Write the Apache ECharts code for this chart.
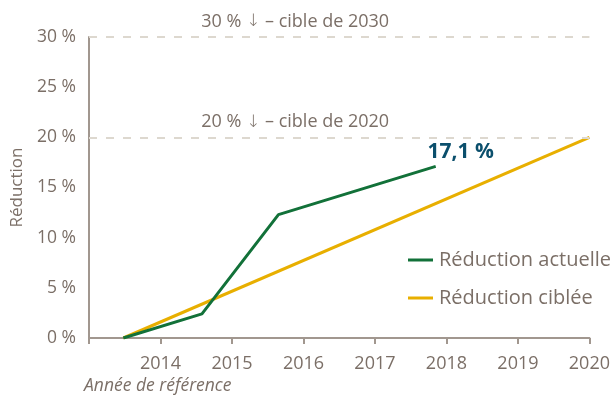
<!DOCTYPE html>
<html>
<head>
<meta charset="utf-8">
<script src="https://cdn.jsdelivr.net/npm/echarts@6/dist/echarts.min.js"></script>
<style>
  html, body { margin: 0; padding: 0; background: #fff; }
  #chart { width: 613px; height: 400px; }
</style>
</head>
<body>
<div id="chart"></div>
<script>
// données
var actualYears = [2013.48, 2014.58, 2015.65, 2017.85];
var actualValues = [0, 2.4, 12.3, 17.1];
var targetYears = [2013.48, 2020];
var targetValues = [0, 20];
var targetLines = [20, 30];
var targetLabels = ['20 % {a|\u2193} \u2013 cible de 2020', '30 % {a|\u2193} \u2013 cible de 2030'];
var seriesNames = ['Réduction actuelle', 'Réduction ciblée'];

var textColor = '#7b6f67';
var axisColor = '#a1978f';
var font = 'Open Sans';

function pairs(xs, ys) {
	var out = [];
	for (var i = 0; i < xs.length; i++) {
		out.push([xs[i], ys[i]]);
	}
	return out;
}

var actualData = pairs(actualYears, actualValues);
// étiquette sur le dernier point seulement
actualData[actualData.length - 1] = {
	value: actualData[actualData.length - 1],
	label: {
		show: true,
		position: 'top',
		offset: [25, 1],
		formatter: function(p) { return String(p.value[1]).replace('.', ',') + ' %'; },
		color: '#0b4f6c',
		fontFamily: font,
		fontWeight: 'bold',
		fontSize: 21
	}
};

var markData = [];
for (var i = 0; i < targetLines.length; i++) {
	markData.push({ yAxis: targetLines[i], label: { formatter: targetLabels[i] } });
}

var myChart = echarts.init(document.getElementById('chart'));
var option = {
	animation: false,
	textStyle: { fontFamily: font },
	grid: { left: 89, right: 22, top: 37, bottom: 62 },
	legend: {
		orient: 'vertical',
		left: 403,
		top: 245,
		itemGap: 18,
		icon: 'rect',
		itemWidth: 25,
		itemHeight: 3,
		textStyle: { color: textColor, fontSize: 20, fontFamily: font, padding: [0, 0, 0, 1] },
		data: seriesNames
	},
	xAxis: {
		type: 'value',
		min: 2013,
		max: 2020,
		interval: 1,
		name: 'Année de référence',
		nameLocation: 'start',
		nameGap: 0,
		nameTextStyle: {
			color: textColor, fontStyle: 'italic', fontSize: 17.5, fontFamily: font,
			align: 'left', verticalAlign: 'top', padding: [39, 0, 0, -5]
		},
		axisLine: { lineStyle: { color: axisColor, width: 2 } },
		axisTick: { show: true, length: 6, lineStyle: { color: axisColor, width: 2 } },
		axisLabel: {
			color: textColor, fontSize: 18, fontFamily: font, margin: 17,
			formatter: function(v) { return v === 2013 ? '' : String(v); }
		},
		splitLine: { show: false }
	},
	yAxis: {
		type: 'value',
		min: 0,
		max: 30,
		interval: 5,
		name: 'Réduction',
		nameLocation: 'middle',
		nameGap: 61,
		nameTextStyle: { color: textColor, fontSize: 17, fontFamily: font },
		axisLine: { show: true, lineStyle: { color: axisColor, width: 2 } },
		axisTick: { show: false },
		axisLabel: {
			color: textColor, fontSize: 17.5, fontFamily: font, margin: 13,
			formatter: '{value} %'
		},
		splitLine: { show: false }
	},
	series: [
		{
			name: seriesNames[0],
			type: 'line',
			data: actualData,
			symbol: 'circle',
			symbolSize: 0,
			color: '#127139',
			lineStyle: { width: 3, color: '#127139' },
			z: 3
		},
		{
			name: seriesNames[1],
			type: 'line',
			data: pairs(targetYears, targetValues),
			symbol: 'none',
			color: '#e8af00',
			lineStyle: { width: 3, color: '#e8af00' },
			z: 2,
			markLine: {
				silent: true,
				symbol: 'none',
				lineStyle: { color: '#ddd8cf', type: [8, 9], width: 2 },
				label: {
					position: 'insideMiddleTop',
					offset: [-44, -1],
					color: textColor,
					fontSize: 18,
					fontFamily: font,
					rich: {
						a: { fontFamily: 'DejaVu Sans', fontSize: 17, color: textColor, fontWeight: 'lighter' }
					}
				},
				data: markData
			}
		}
	]
};
myChart.setOption(option);
</script>
</body>
</html>
